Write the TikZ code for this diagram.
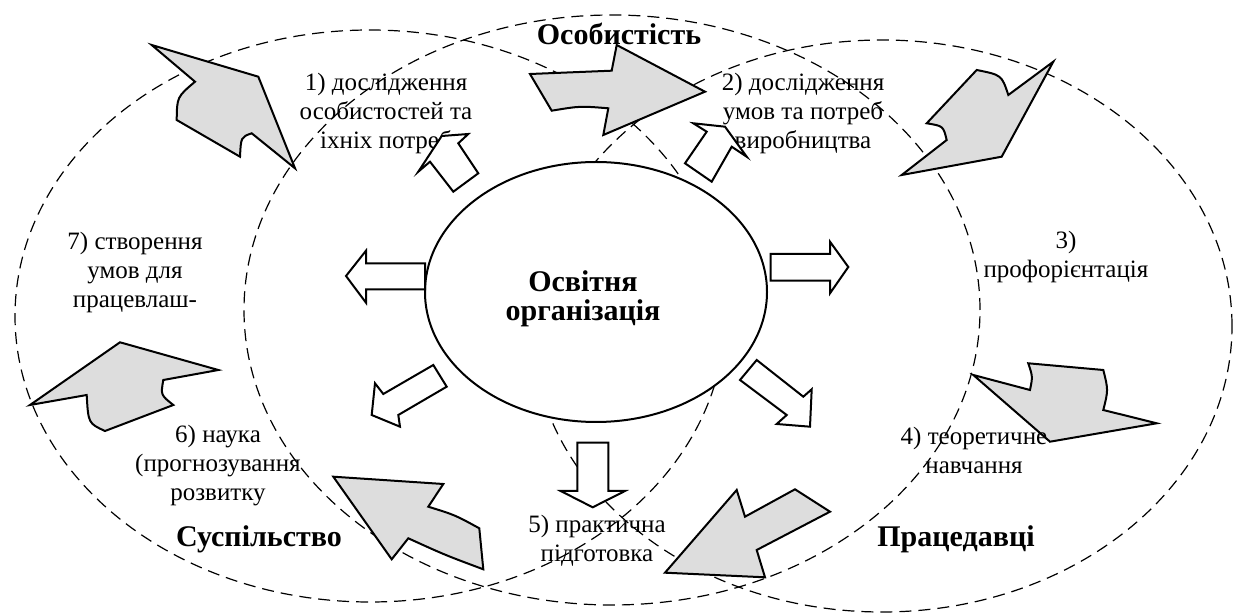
\documentclass[tikz,border=0pt]{standalone}
\usepackage{fontspec}
\setmainfont{Liberation Serif}
\usetikzlibrary{shapes.geometric}
\definecolor{shade}{RGB}{221,221,221}
\begin{document}
\begin{tikzpicture}[x=0.5pt,y=-0.5pt,
  zone/.style={draw, dash pattern=on 6pt off 3.5pt, line width=0.6pt},
  bigarrow/.style={draw, fill=shade, line width=1pt, line join=miter},
  smallarrow/.style={draw, fill=white, line width=1pt, line join=miter},
  note/.style={align=center, font=\fontsize{12.5}{14.5}\selectfont, inner sep=0pt},
  title/.style={font=\fontsize{15}{18}\selectfont\bfseries, inner sep=0pt}]
\useasboundingbox[fill=white] (0,0) rectangle (1238,614);

% three overlapping spheres of interest
\draw[zone] (370,316) ellipse [x radius=177.5pt, y radius=143pt];
\draw[zone] (612,310) ellipse [x radius=184pt, y radius=147.5pt];
\draw[zone] (882,326) ellipse [x radius=175pt, y radius=143pt];

% central organisation
\node[ellipse, draw, fill=white, line width=1pt, minimum width=171pt,
      minimum height=130pt, inner sep=0pt] (org) at (596,292) {};
\node[align=center, inner sep=0pt,
      font=\fontsize{15}{14.5}\selectfont\bfseries] (orgname) at (583,299)
      {Освітня\\організація};

% sphere titles
\node[title] (pers) at (619,34) {Особистість};
\node[title] (soc)  at (259,539) {Суспільство};
\node[title] (empl) at (956,539) {Працедавці};

% numbered functions
\node[note] (f1) at (386,113) {1) дослідження\\особистостей та\\іхніх потреб};
\node[note] (f2) at (803,113) {2) дослідження\\умов та потреб\\виробництва};
\node[note] (f3) at (1066,257) {3)\\профорієнтація};
\node[note] (f5) at (597,541) {5) практична\\підготовка};
\node[note] (f6) at (218,466) {6) наука\\(прогнозування\\розвитку};
\node[note] (f7) at (135,272) {7) створення\\умов для\\працевлаш-};

% white arrows leaving the organisation
\draw[smallarrow] (418.3,171.7) -- (441.7,136) -- (468.3,134) -- (458.3,143.3)
  -- (478.3,173.3) -- (453.3,191.7) -- (430,161.7) -- cycle;
\draw[smallarrow] (693.3,123.3) -- (725,126.7) -- (746.7,156.7) -- (731.7,146.7)
  -- (711.7,181.7) -- (685,163.3) -- (706.7,131.7) -- cycle;
\draw[smallarrow] (346,276) -- (366,250.7) -- (366,263.3) -- (425,263.3)
  -- (425,289.3) -- (366,289.3) -- (366,302.7) -- cycle;
\draw[smallarrow] (770.7,254) -- (830,254) -- (830,241.7) -- (848.3,267)
  -- (830,293.3) -- (830,280.7) -- (770.7,280.7) -- cycle;
\draw[smallarrow] (433.3,365) -- (446.7,386.7) -- (398.3,415) -- (400,426.7)
  -- (371.7,415) -- (375,383.3) -- (383.3,394) -- cycle;
\draw[smallarrow] (740,380) -- (756.7,360) -- (803.3,396.7) -- (811.7,389.3)
  -- (810,426.7) -- (776.7,424) -- (786.7,415) -- cycle;
\draw[smallarrow] (577.3,442.7) -- (608.3,442.7) -- (608.3,491) -- (625,491)
  -- (592.7,507.3) -- (560.7,491) -- (577.3,491) -- cycle;

% grey cycle arrows between the spheres
\draw[bigarrow] (151.7,45) -- (258.3,76.7) -- (295,168.3) -- (251.7,133.3)
  .. controls (241,137) .. (240,156.7) -- (176.7,120)
  .. controls (177,97) .. (195,81.7) -- cycle;
\draw[bigarrow] (530,74) -- (611.7,70.7) -- (616.7,45) -- (705,91.7)
  -- (603.3,135) -- (608.3,108.3) .. controls (580,106) .. (551.7,110.7) -- cycle;
\draw[bigarrow] (1053.3,61.7) -- (1001.7,156.7) -- (901.7,175) -- (946.7,140)
  .. controls (943.3,126) .. (926.7,123.3) -- (976.7,70)
  .. controls (1001.7,75) .. (1008.3,95) -- cycle;
\draw[bigarrow] (973.3,375) -- (1030,390) .. controls (1032.7,376.7) .. (1028.3,363.3)
  -- (1103.3,370) .. controls (1108.3,390) .. (1103.3,410) -- (1156.7,423.3)
  -- (1050,441.7) -- cycle;
\draw[bigarrow] (665,572.7) -- (736.7,490) -- (745,516.7)
  .. controls (770,502) .. (795,489.3) -- (830,511.7) -- (756.7,550)
  -- (765,577.3) -- cycle;
\draw[bigarrow] (333.3,476.7) -- (443.3,484) -- (428.3,506.7)
  .. controls (455,515) .. (479.3,528.3) -- (483.3,569.3)
  .. controls (445,555) .. (408.3,538.3) -- (391.7,559.3) -- cycle;
\draw[bigarrow] (30,405) -- (120,342.3) -- (218.3,370) -- (163.3,380)
  .. controls (160.7,395) .. (173.3,405) -- (105,431)
  .. controls (88.3,423.3) .. (86.7,395) -- cycle;

\node[note] (f4) at (974,450) {4) теоретичне\\навчання};
\end{tikzpicture}
\end{document}
